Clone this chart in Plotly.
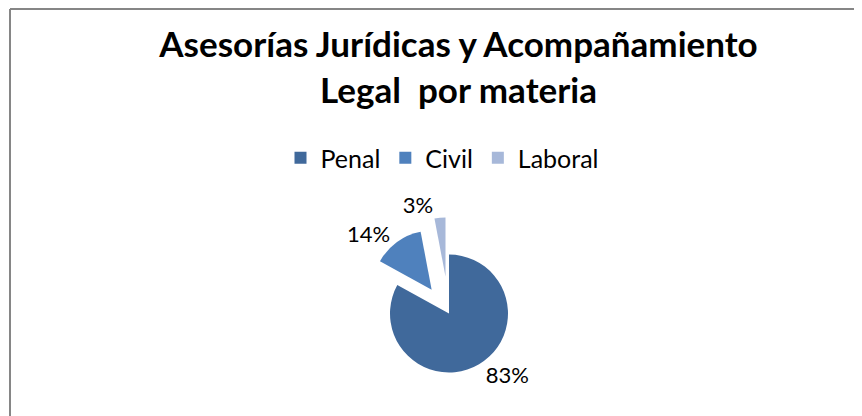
import plotly.graph_objects as go

W, H = 862, 416
OFF = 8  # page body margin that shifts the whole figure

materias = ["Penal", "Civil", "Laboral"]
porcentajes = [83, 14, 3]
colores = ["#40699B", "#4F81BD", "#A7B8D9"]
separacion = [0, 0.5, 0.63]

titulo = "Asesorías Jurídicas y Acompañamiento<br>Legal\u00a0 por materia"


def px_x(x):
    return (x - OFF) / W


def px_y(y):
    return 1 - (y - OFF) / H


fig = go.Figure()

# pie centre / radius as seen in the reference (screen pixels)
cx, cy, r = 449, 313.5, 59
half = r * (1 + max(separacion))
fig.add_trace(go.Pie(
    labels=materias,
    values=porcentajes,
    sort=False,
    direction="clockwise",
    rotation=0,
    pull=separacion,
    marker=dict(colors=colores, line=dict(width=0)),
    textinfo="percent",
    textposition="outside",
    textfont=dict(family="Lato", size=22, color="#000000"),
    domain=dict(x=[px_x(cx - half), px_x(cx + half)],
                y=[px_y(cy + half), px_y(cy - half)]),
    hoverinfo="label+percent",
))

fig.update_layout(
    width=W, height=H,
    autosize=False,
    margin=dict(l=0, r=0, t=0, b=0, autoexpand=False),
    paper_bgcolor="white",
    plot_bgcolor="white",
    font=dict(family="Lato", color="#000000"),
    title=dict(
        text="<b>" + titulo + "</b>",
        x=px_x(458.5), xanchor="center",
        y=px_y(57), yanchor="top",
        font=dict(family="Lato", size=35, color="#000000"),
    ),
    legend=dict(
        orientation="h",
        x=px_x(442.5), xanchor="center",
        y=px_y(135), yanchor="top",
        font=dict(family="Lato", size=25, color="#000000"),
        itemwidth=30,
        traceorder="normal",
    ),
    shapes=[
        dict(type="line", xref="paper", yref="paper",
             x0=px_x(10), x1=1, y0=1 - 1 / H, y1=1 - 1 / H,
             line=dict(color="#868686", width=2)),
        dict(type="line", xref="paper", yref="paper",
             x0=px_x(10), x1=px_x(10), y0=0, y1=1 - 1 / H,
             line=dict(color="#868686", width=2)),
    ],
)

fig.write_html("out.html")
